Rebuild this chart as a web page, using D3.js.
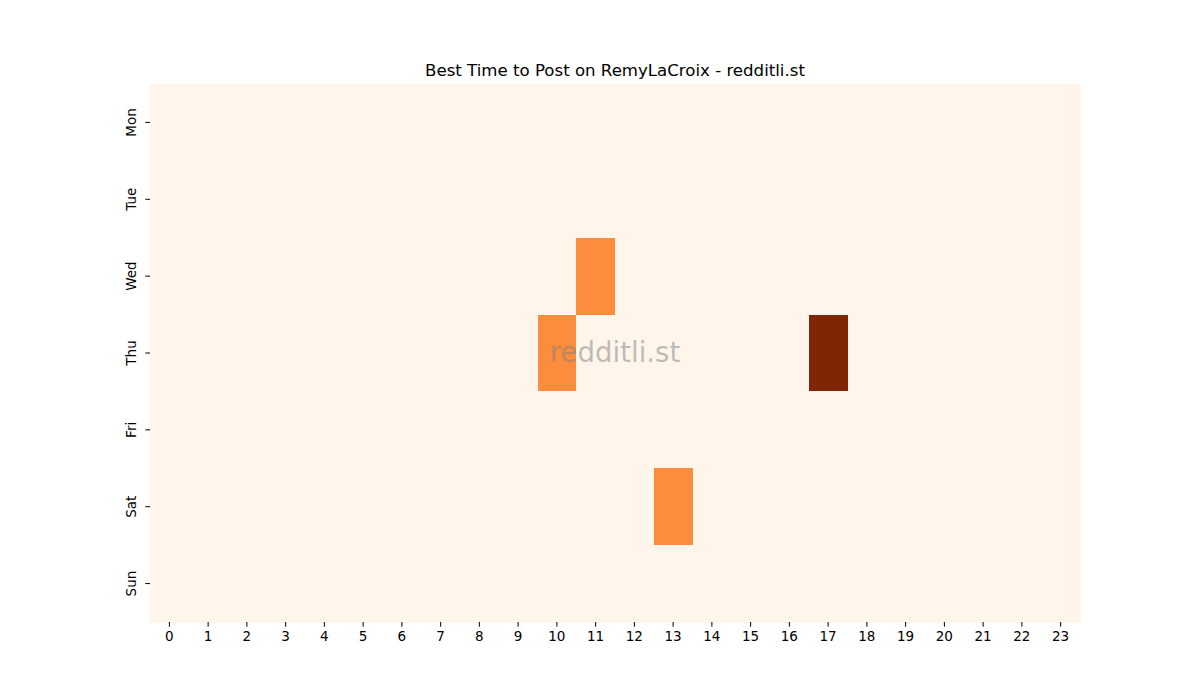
<!DOCTYPE html>
<html>
<head>
<meta charset="utf-8">
<script src="https://cdn.jsdelivr.net/npm/d3@7"></script>
<style>
  body { margin: 0; background: #fff; }
  svg text { font-family: "DejaVu Sans", sans-serif; }
</style>
</head>
<body>
<div id="chart"></div>
<script>
// data
var days = ["Mon", "Tue", "Wed", "Thu", "Fri", "Sat", "Sun"];
var hours = d3.range(0, 24);
// non-zero cells: [day, hour, value]
var hotCells = [
  ["Wed", 11, 1],
  ["Thu", 10, 1],
  ["Thu", 17, 2],
  ["Sat", 13, 1]
];
var titleText = "Best Time to Post on RemyLaCroix - redditli.st";
var watermark = "redditli.st";

var width = 1200, height = 700,
    margin = {top: 84, left: 150, right: 120, bottom: 78};

// build the full grid
var cells = [];
days.forEach(function(d) {
  hours.forEach(function(h) {
    var hit = hotCells.find(function(c) { return c[0] === d && c[1] === h; });
    cells.push({day: d, hour: h, value: hit ? hit[2] : 0});
  });
});

var svg = d3.select("#chart").append("svg")
  .attr("width", width)
  .attr("height", height);

var xScale = d3.scaleBand()
  .domain(hours)
  .range([margin.left, width - margin.right]);

var yScale = d3.scaleBand()
  .domain(days)
  .range([margin.top, height - margin.bottom]);

var color = d3.scaleSequential(d3.interpolateOranges)
  .domain([0, d3.max(cells, function(d) { return d.value; })]);

svg.append("g")
  .selectAll("rect")
  .data(cells)
  .enter().append("rect")
  .attr("x", function(d) { return xScale(d.hour); })
  .attr("y", function(d) { return yScale(d.day); })
  .attr("width", xScale.bandwidth() + 0.5)
  .attr("height", yScale.bandwidth() + 0.5)
  .attr("fill", function(d) { return color(d.value); })
  .attr("shape-rendering", "crispEdges");

// axes
var xAxis = svg.append("g")
  .attr("transform", "translate(0," + (height - margin.bottom) + ")")
  .call(d3.axisBottom(xScale).tickSize(4.7).tickPadding(5));
xAxis.select(".domain").remove();
xAxis.selectAll("text").style("font-size", "13.5px").attr("fill", "#000");
xAxis.selectAll("line").attr("stroke", "#000").attr("stroke-width", 1);

var yAxis = svg.append("g")
  .attr("transform", "translate(" + margin.left + ",0)")
  .call(d3.axisLeft(yScale).tickSize(4.7).tickPadding(5));
yAxis.select(".domain").remove();
yAxis.selectAll("line").attr("stroke", "#000").attr("stroke-width", 1);
yAxis.selectAll("text")
  .style("font-size", "13.5px")
  .attr("fill", "#000")
  .attr("x", null).attr("dy", null)
  .attr("text-anchor", "middle")
  .attr("transform", "translate(-14,0) rotate(-90)");

// title
svg.append("text")
  .attr("x", (margin.left + width - margin.right) / 2)
  .attr("y", 76)
  .attr("text-anchor", "middle")
  .style("font-size", "16.6px")
  .text(titleText);

// watermark
svg.append("text")
  .attr("x", (margin.left + width - margin.right) / 2)
  .attr("y", 362)
  .attr("text-anchor", "middle")
  .style("font-size", "27.6px")
  .attr("fill", "#808080")
  .attr("fill-opacity", 0.5)
  .text(watermark);
</script>
</body>
</html>
